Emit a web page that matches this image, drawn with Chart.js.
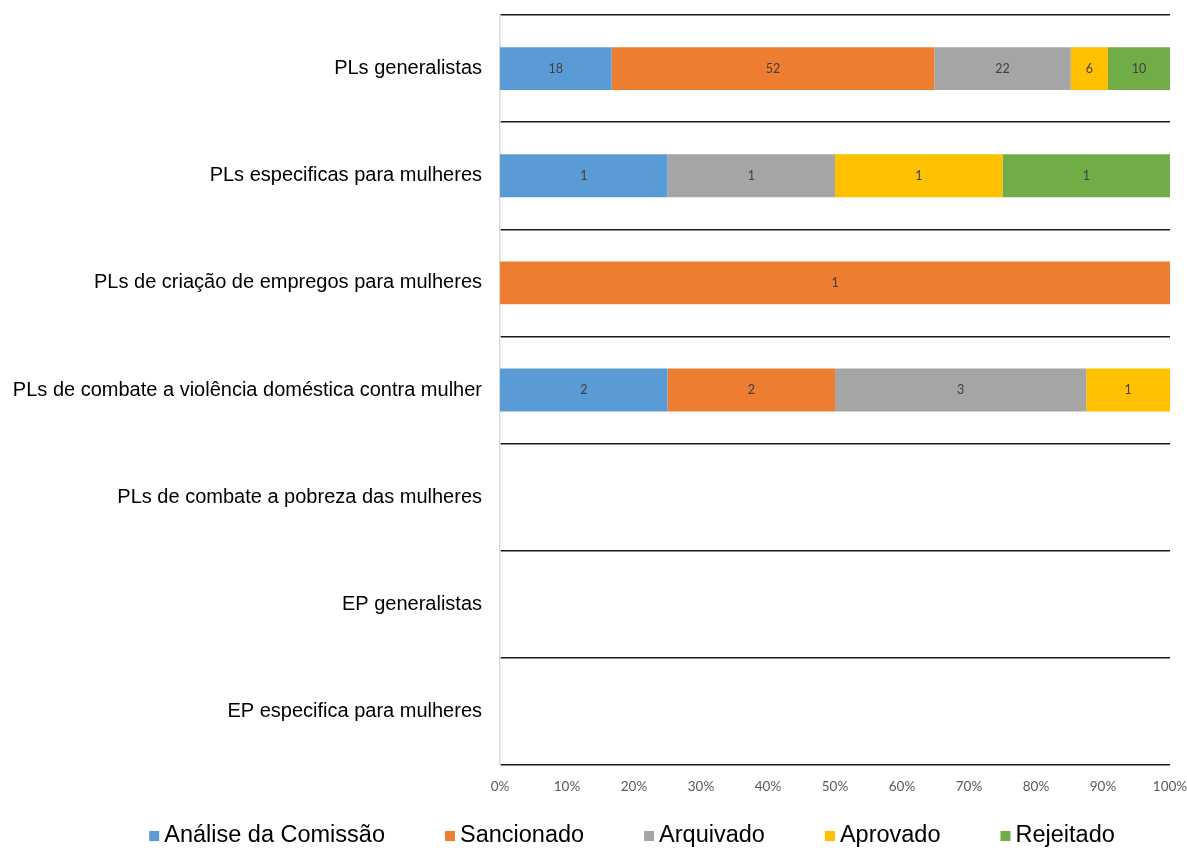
<!DOCTYPE html>
<html lang="pt-BR">
<head>
<meta charset="utf-8">
<title>Situação dos PLs</title>
<script src="https://cdn.jsdelivr.net/npm/chart.js@4.4.1/dist/chart.umd.min.js"></script>
<style>
  html, body { margin: 0; padding: 0; background: #fff; overflow: hidden; }
  #box { width: 1187px; height: 848px; position: relative; }
</style>
</head>
<body>
<div id="box"><canvas id="grafico"></canvas></div>
<script>
// Categorias e quantidades (valores absolutos)
const categorias = [
  "PLs generalistas",
  "PLs especificas para mulheres",
  "PLs de criação de empregos para mulheres",
  "PLs de combate a violência doméstica contra mulher",
  "PLs de combate a pobreza das mulheres",
  "EP generalistas",
  "EP especifica para mulheres",
];
const analiseComissao = [18, 1, 0, 2, 0, 0, 0];
const sancionado = [52, 0, 1, 2, 0, 0, 0];
const arquivado = [22, 1, 0, 3, 0, 0, 0];
const aprovado = [6, 1, 0, 1, 0, 0, 0];
const rejeitado = [10, 1, 0, 0, 0, 0, 0];
const ticksX = [0, 10, 20, 30, 40, 50, 60, 70, 80, 90, 100];

const series = [
  { nome: "Análise da Comissão", valores: analiseComissao, cor: "#5B9BD5" },
  { nome: "Sancionado", valores: sancionado, cor: "#ED7D31" },
  { nome: "Arquivado", valores: arquivado, cor: "#A5A5A5" },
  { nome: "Aprovado", valores: aprovado, cor: "#FFC000" },
  { nome: "Rejeitado", valores: rejeitado, cor: "#70AD47" },
];

// total por categoria, para empilhar em 100%
const totais = categorias.map((_, i) =>
  series.reduce((soma, s) => soma + s.valores[i], 0)
);

const datasets = series.map((s) => ({
  label: s.nome,
  data: s.valores.map((v, i) => (totais[i] ? (v / totais[i]) * 100 : 0)),
  contagens: s.valores,
  backgroundColor: s.cor,
  borderWidth: 0,
  categoryPercentage: 1,
  barPercentage: 0.4,
}));

// Rótulos com a quantidade no meio de cada segmento
const rotulosBarras = {
  id: "rotulosBarras",
  afterDatasetsDraw(chart) {
    const ctx = chart.ctx;
    ctx.save();
    ctx.font = "12.5px Lato, 'Liberation Sans', sans-serif";
    ctx.fillStyle = "#404040";
    ctx.textAlign = "center";
    ctx.textBaseline = "middle";
    chart.data.datasets.forEach((ds, d) => {
      const meta = chart.getDatasetMeta(d);
      meta.data.forEach((barra, i) => {
        const n = ds.contagens[i];
        if (!n) return;
        ctx.fillText(String(n), (barra.x + barra.base) / 2, barra.y);
      });
    });
    ctx.restore();
  },
};

// Legenda desenhada à mão (fica colada na borda de baixo, como no original)
const legendaBaixo = {
  id: "legendaBaixo",
  afterDraw(chart) {
    const ctx = chart.ctx;
    const centro = 632;
    const y = 836;
    const caixa = 10;
    const folga = 5;
    const espaco = 60;
    ctx.save();
    ctx.font = "23.5px 'Liberation Sans', Arial, sans-serif";
    ctx.textBaseline = "middle";
    const larguras = chart.data.datasets.map(
      (ds) => caixa + folga + ctx.measureText(ds.label).width
    );
    const total =
      larguras.reduce((a, b) => a + b, 0) + espaco * (larguras.length - 1);
    let x = centro - total / 2;
    chart.data.datasets.forEach((ds, i) => {
      ctx.fillStyle = ds.backgroundColor;
      ctx.fillRect(x, y - caixa / 2, caixa, caixa);
      ctx.fillStyle = "#000";
      ctx.fillText(ds.label, x + caixa + folga, y);
      x += larguras[i] + espaco;
    });
    ctx.restore();
  },
};

new Chart(document.getElementById("grafico"), {
  type: "bar",
  data: { labels: categorias, datasets: datasets },
  plugins: [rotulosBarras, legendaBaixo],
  options: {
    indexAxis: "y",
    responsive: true,
    maintainAspectRatio: false,
    animation: false,
    layout: { padding: { top: 15, left: 0, right: 17, bottom: 43 } },
    scales: {
      x: {
        stacked: true,
        min: 0,
        max: 100,
        afterBuildTicks: (scale) => {
          scale.ticks = ticksX.map((v) => ({ value: v }));
        },
        afterFit: (scale) => {
          scale.height = 40;
          scale.paddingLeft = 0;
          scale.paddingRight = 0;
        },
        grid: { display: false, drawTicks: false },
        border: { display: false },
        ticks: {
          padding: 14,
          color: "#595959",
          font: { family: "Lato, 'Liberation Sans', sans-serif", size: 13.5 },
          maxRotation: 0,
          autoSkip: false,
          callback: (v) => v + "%",
        },
      },
      y: {
        stacked: true,
        afterFit: (scale) => {
          scale.width = 500;
          scale.paddingTop = 0;
          scale.paddingBottom = 0;
        },
        grid: {
          color: "#1a1a1a",
          lineWidth: 1.5,
          drawTicks: false,
        },
        border: { display: true, color: "#d9d9d9", width: 1.5 },
        ticks: {
          padding: 18,
          color: "#000",
          font: { family: "'Liberation Sans', Arial, sans-serif", size: 20 },
        },
      },
    },
    plugins: {
      legend: { display: false },
      tooltip: { enabled: false },
    },
  },
});
</script>
</body>
</html>
